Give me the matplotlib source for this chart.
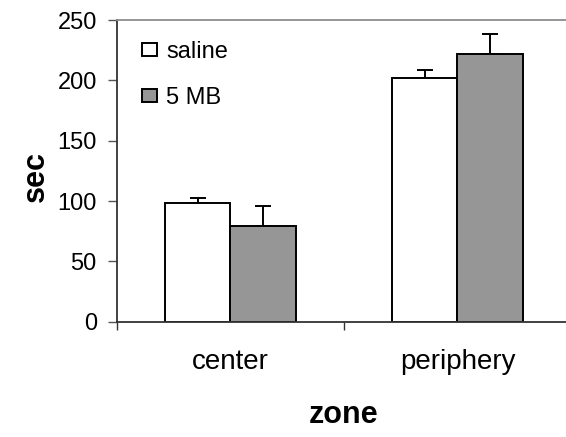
import matplotlib
matplotlib.use("Agg")
import matplotlib.pyplot as plt
import numpy as np

zones = ["center", "periphery"]
groups = ["saline", "5 MB"]
saline_mean = [98, 202]
saline_sem = [4.7, 6.6]
mb_mean = [79.5, 222]
mb_sem = [16.6, 16.6]
fills = ["white", "#969696"]

plt.rcParams["font.family"] = ["Liberation Sans", "DejaVu Sans"]

fig = plt.figure(figsize=(5.66, 4.37), dpi=100)
ax = fig.add_axes([0.2067, 0.2638, 0.8021, 0.6904])

x = np.arange(len(zones))
w = 0.29
means = [saline_mean, mb_mean]
sems = [saline_sem, mb_sem]
for i, (m, s) in enumerate(zip(means, sems)):
    pos = x + (i - 0.5) * w
    ax.bar(pos, m, width=w, color=fills[i], edgecolor="black", linewidth=1.4,
           label=groups[i], zorder=2)
    # upper error bars only
    ax.errorbar(pos, m, yerr=[np.zeros(len(m)), s], fmt="none", ecolor="black",
                elinewidth=1.4, capsize=5.5, capthick=1.4, zorder=1)

ax.set_xlim(-0.5, 1.5)
ax.set_ylim(0, 250)
ax.set_yticks(range(0, 251, 50))
ax.set_xticks(x)
ax.set_xticklabels(zones, fontsize=20)
ax.set_xticks([-0.5, 0.5, 1.5], minor=True)
ax.tick_params(axis="x", which="major", length=0, pad=20)
ax.tick_params(axis="x", which="minor", length=6, width=1, color="#333333", direction="out")
ax.tick_params(axis="y", length=6.5, width=1, color="#555555", direction="out", labelsize=17, pad=8)

ax.spines["right"].set_visible(False)
ax.spines["top"].set_color("#8c8c8c")
ax.spines["top"].set_linewidth(1.3)
for side in ("left", "bottom"):
    ax.spines[side].set_color("#333333")
    ax.spines[side].set_linewidth(1.3)

ax.set_ylabel("sec", fontsize=22, fontweight="bold")
ax.set_xlabel("zone", fontsize=22, fontweight="bold")
ax.yaxis.set_label_coords(-0.145, 0.48)
ax.xaxis.set_label_coords(0.5, -0.26)

ax.legend(loc="upper left", bbox_to_anchor=(0.055, 0.93), frameon=False,
          fontsize=17, handlelength=0.64, handleheight=0.5, handletextpad=0.38,
          labelspacing=1.0, borderaxespad=0, borderpad=0)

fig.savefig("out.png", dpi=100)
